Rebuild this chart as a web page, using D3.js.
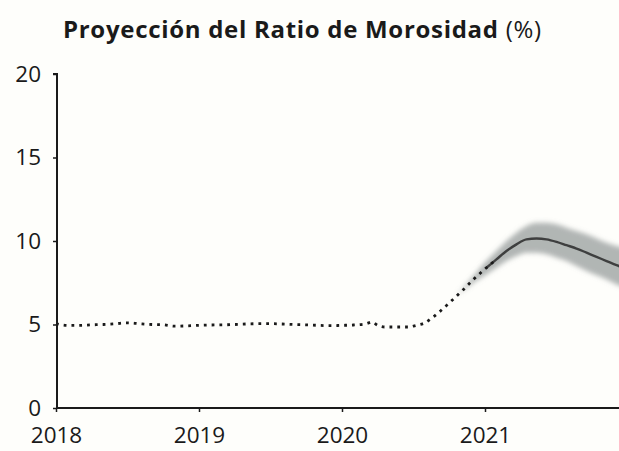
<!DOCTYPE html>
<html>
<head>
<meta charset="utf-8">
<script src="https://cdn.jsdelivr.net/npm/d3@7"></script>
<style>
	body { margin: 0; background: #fefefb; }
	svg { display: block; }
	text { font-family: "Open Sans", "Noto Sans", sans-serif; fill: #1a1a1a; }
</style>
</head>
<body>
<svg width="619" height="451"></svg>
<script>
// observed ratio (dotted line), year as decimal
const histYears = [2018.00, 2018.08, 2018.17, 2018.25, 2018.33, 2018.42, 2018.50, 2018.58, 2018.67, 2018.75,
	2018.83, 2018.92, 2019.00, 2019.08, 2019.17, 2019.25, 2019.33, 2019.42, 2019.50, 2019.58,
	2019.67, 2019.75, 2019.83, 2019.92, 2020.00, 2020.08, 2020.17, 2020.21, 2020.25, 2020.30,
	2020.38, 2020.46, 2020.52, 2020.58, 2020.63, 2020.68, 2020.77, 2020.85, 2020.92, 2021.01, 2021.08];
const histValues = [5.05, 4.95, 4.95, 4.98, 5.0, 5.05, 5.1, 5.05, 5.0, 4.98,
	4.9, 4.92, 4.95, 4.97, 4.98, 5.0, 5.03, 5.05, 5.05, 5.03,
	5.0, 4.98, 4.95, 4.93, 4.95, 4.97, 5.05, 5.15, 4.95, 4.85,
	4.85, 4.85, 4.95, 5.1, 5.4, 5.75, 6.45, 7.1, 7.7, 8.4, 8.9];

// projection (solid line + fan)
const projYears = [2020.80, 2020.92, 2021.01, 2021.08, 2021.15, 2021.22, 2021.29, 2021.36, 2021.43,
	2021.50, 2021.57, 2021.64, 2021.71, 2021.78, 2021.85, 2021.92, 2022.00];
const projValues = [6.7, 7.7, 8.4, 8.9, 9.4, 9.8, 10.1, 10.15, 10.1,
	9.95, 9.75, 9.55, 9.3, 9.05, 8.8, 8.55, 8.3];
const projLow = [6.7, 7.5, 8.0, 8.4, 8.8, 9.1, 9.3, 9.3, 9.2,
	9.0, 8.8, 8.5, 8.2, 7.95, 7.7, 7.4, 7.1];
const projHigh = [6.7, 7.9, 8.8, 9.4, 10.0, 10.5, 10.9, 11.1, 11.1,
	11.0, 10.8, 10.6, 10.4, 10.15, 9.9, 9.7, 9.5];

const yTicks = [0, 5, 10, 15, 20];
const xTicks = [2018, 2019, 2020, 2021];

const svg = d3.select("svg");

const x = d3.scaleLinear().domain([2018, 2022]).range([56, 628]);
const y = d3.scaleLinear().domain([0, 20]).range([408, 74]);

// title
const title = svg.append("text")
	.attr("x", 63)
	.attr("y", 38)
	.style("font-size", "24px")
	.style("letter-spacing", "0.7px");
title.append("tspan").style("font-weight", "bold").text("Proyección del Ratio de Morosidad");
title.append("tspan").text(" (%)");

// fan
const defs = svg.append("defs");
defs.append("filter").attr("id", "blur")
	.append("feGaussianBlur").attr("stdDeviation", 2.5);

const band = projYears.map((t, i) => ({t: t, lo: projLow[i], hi: projHigh[i], v: projValues[i]}));

svg.append("path")
	.datum(band)
	.attr("fill", "#7f8585")
	.attr("fill-opacity", 0.6)
	.attr("filter", "url(#blur)")
	.attr("d", d3.area().curve(d3.curveMonotoneX)
		.x(d => x(d.t)).y0(d => y(d.lo)).y1(d => y(d.hi)));

svg.append("path")
	.datum(band.filter(d => d.t >= 2021.0))
	.attr("fill", "none")
	.attr("stroke", "#222")
	.attr("stroke-width", 2.4)
	.attr("stroke-opacity", 0.8)
	.attr("d", d3.line().curve(d3.curveMonotoneX).x(d => x(d.t)).y(d => y(d.v)));

// dotted history
const hist = histYears.map((t, i) => ({t: t, v: histValues[i]}));
svg.append("path")
	.datum(hist)
	.attr("fill", "none")
	.attr("stroke", "#1a1a1a")
	.attr("stroke-width", 2.8)
	.attr("stroke-dasharray", "2.8,5")
	.attr("d", d3.line().curve(d3.curveMonotoneX).x(d => x(d.t)).y(d => y(d.v)));

// axes
const yAxis = svg.append("g")
	.attr("transform", "translate(57,0)")
	.call(d3.axisLeft(y).tickValues(yTicks).tickSize(4).tickPadding(12));
const xAxis = svg.append("g")
	.attr("transform", "translate(0,408)")
	.call(d3.axisBottom(x).tickValues(xTicks).tickFormat(d3.format("d")).tickSize(4).tickPadding(15));

[yAxis, xAxis].forEach(g => {
	g.select(".domain").attr("stroke", "#1a1a1a").attr("stroke-width", 2);
	g.selectAll(".tick line").attr("stroke", "#1a1a1a").attr("stroke-width", 1.5);
	g.selectAll("text").style("font-size", "22.5px").attr("fill", "#1a1a1a");
});
xAxis.select(".domain").attr("d", "M56,0H628");
yAxis.select(".domain").attr("d", "M-4,74H0V408");
</script>
</body>
</html>
